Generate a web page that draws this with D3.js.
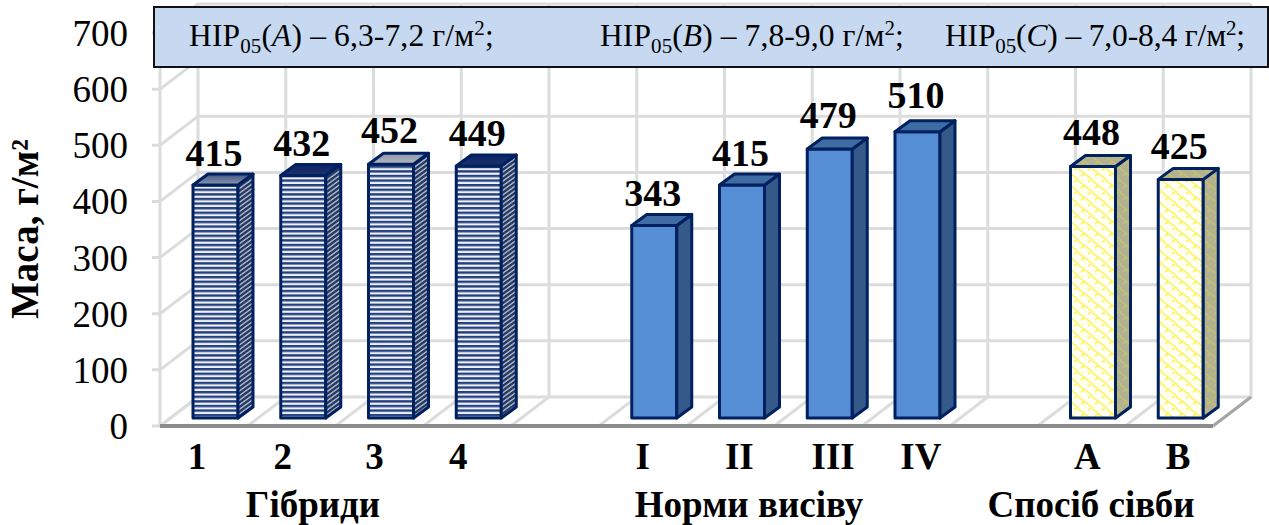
<!DOCTYPE html>
<html>
<head>
<meta charset="utf-8">
<script src="https://d3js.org/d3.v7.min.js"></script>
<style>
  html, body { margin: 0; padding: 0; background: #fff; }
  svg { display: block; }
  text { font-family: "Liberation Serif", serif; fill: #000; }
</style>
</head>
<body>
<div id="my_dataviz"></div>
<script>
// chart values
const categories = ["1", "2", "3", "4", "", "I", "II", "III", "IV", "", "A", "B"];
const values = [415, 432, 452, 449, null, 343, 415, 479, 510, null, 448, 425];
const yTicks = [0, 100, 200, 300, 400, 500, 600, 700];
const groupNames = ["Гібриди", "Норми висіву", "Спосіб сівби"];
const lsdNames = ["A", "B", "C"];
const lsdRanges = ["6,3-7,2", "7,8-9,0", "7,0-8,4"];

// hand placed in the original, so the labels do not sit on the band centres
const labelShift = [-7, -9, -5, -9, 0, 0, 9, 15, 15, 0, 6, 9];
const valueLift = [0, 0, 2, 1, 0, 0, 0, 2, 5, 0, 2, 1];
const groupX = [313, 749, 1091];
const lsdX = [189, 600, 945];
const lsdSpacing = [0.14, 0.1, -0.14];

const width = 1269, height = 525;
const floorY = 426, depthX = 38, depthY = 29;

const svg = d3.select("#my_dataviz").append("svg")
    .attr("width", width)
    .attr("height", height);

const x = d3.scaleBand().domain(d3.range(categories.length)).range([160, 1213]);
const y = d3.scaleLinear().domain([0, 700]).range([floorY, floorY - 393]);

// ---- fills
const defs = svg.append("defs");

function stripes(id, dark, light, skew) {
  const p = defs.append("pattern")
      .attr("id", id)
      .attr("patternUnits", "userSpaceOnUse")
      .attr("width", 8).attr("height", 4.6);
  if (skew) p.attr("patternTransform", "skewY(-36)");
  p.append("rect").attr("width", 8).attr("height", 4.6).attr("fill", light);
  p.append("rect").attr("width", 8).attr("height", skew ? 2.8 : 2.4).attr("fill", dark);
}
stripes("stripeFront", "#24407f", "#eef1f7", false);
stripes("stripeSide", "#263a66", "#aab2c2", true);

function topGradient(id, c0, c1) {
  const g = defs.append("linearGradient").attr("id", id)
      .attr("x1", 0).attr("x2", 0).attr("y1", 0).attr("y2", 1);
  g.append("stop").attr("offset", 0).attr("stop-color", c0);
  g.append("stop").attr("offset", 1).attr("stop-color", c1);
}
topGradient("topMid", "#3d5585", "#8f99ad");
topGradient("topDark", "#0c2468", "#1c3268");
topGradient("topLight", "#8d98ad", "#b4b8c0");

// yellow weave: long strokes falling to the right, short ticks across them
function weave(id, bg, line) {
  const p = defs.append("pattern")
      .attr("id", id)
      .attr("patternUnits", "userSpaceOnUse")
      .attr("width", 14).attr("height", 12);
  p.append("rect").attr("width", 14).attr("height", 12).attr("fill", bg);
  p.append("path")
      .attr("d", "M-2,-1 L16,13 M-9,5 L7,17 M7,-7 L21,5 M3,8 L7,5 M10,2 L13,0")
      .attr("fill", "none")
      .attr("stroke", line)
      .attr("stroke-width", 1.6);
}
weave("weaveFront", "#fffff4", "#fff35c");
weave("weaveSide", "#b2b292", "#c4c070");

const barStyle = (d, i) => {
  if (i < 4) return {
    front: "url(#stripeFront)", side: "url(#stripeSide)",
    top: ["url(#topMid)", "url(#topDark)", "url(#topLight)", "url(#topDark)"][i]
  };
  if (i < 9) return { front: "#558ed5", side: "#355a8a", top: "#3f6ca3" };
  return { front: "url(#weaveFront)", side: "url(#weaveSide)", top: "url(#weaveSide)" };
};

// ---- walls and floor
const grid = svg.append("g")
    .attr("fill", "none")
    .attr("stroke", "#dcdcdc")
    .attr("stroke-width", 3);

// back wall + side wall lines
grid.selectAll(".hline")
  .data(yTicks)
  .join("path")
    .attr("d", d => `M152,${y(d)} L160,${y(d)} L${160 + depthX},${y(d) - depthY} L${1213 + depthX},${y(d) - depthY}`);

// vertical wall lines and the floor diagonals
const bounds = d3.range(categories.length + 1).map(i => 160 + i * x.bandwidth());
grid.selectAll(".vline")
  .data(bounds)
  .join("path")
    .attr("d", d => `M${d},${floorY} L${d + depthX},${floorY - depthY} L${d + depthX},${y(700) - depthY}`);

grid.append("path")
    .attr("d", `M160,${floorY} L160,${y(700)}`);

svg.append("path")
    .attr("d", `M1213,${floorY} L${1213 + depthX},${floorY - depthY}`)
    .attr("fill", "none")
    .attr("stroke", "#a6a6a6")
    .attr("stroke-width", 3);
svg.append("path")
    .attr("d", `M160,${floorY} L1213,${floorY}`)
    .attr("stroke", "#8c8c8c")
    .attr("stroke-width", 4);

// ---- bars
const barW = 45, barInX = 12, barInY = 8, barDX = 15, barDY = 11;
const bars = svg.append("g")
    .attr("stroke", "#002060")
    .attr("stroke-width", 3)
    .attr("stroke-linejoin", "round");

const barData = values.map((v, i) => ({ v, i })).filter(d => d.v !== null);
const left = d => x(d.i) + 21 + barInX;
const top3d = d => y(d.v) - barInY;
const base = floorY - barInY;

bars.selectAll(".front")
  .data(barData)
  .join("rect")
    .attr("x", left)
    .attr("y", top3d)
    .attr("width", barW)
    .attr("height", d => base - top3d(d))
    .attr("fill", d => barStyle(d, d.i).front);

bars.selectAll(".side")
  .data(barData)
  .join("path")
    .attr("d", d => {
      const r = left(d) + barW;
      return `M${r},${top3d(d)} L${r + barDX},${top3d(d) - barDY} L${r + barDX},${base - barDY} L${r},${base} Z`;
    })
    .attr("fill", d => barStyle(d, d.i).side);

bars.selectAll(".top")
  .data(barData)
  .join("path")
    .attr("d", d => {
      const l = left(d), t = top3d(d);
      return `M${l},${t} L${l + barDX},${t - barDY} L${l + barW + barDX},${t - barDY} L${l + barW},${t} Z`;
    })
    .attr("fill", d => barStyle(d, d.i).top);

// ---- value labels
svg.selectAll(".value")
  .data(barData)
  .join("text")
    .attr("x", d => left(d) + barW / 2 - 1.5)
    .attr("y", d => top3d(d) - 19 - valueLift[d.i])
    .attr("text-anchor", "middle")
    .attr("font-size", 38)
    .attr("font-weight", "bold")
    .text(d => d.v);

// ---- axis text
svg.selectAll(".ytick")
  .data(yTicks)
  .join("text")
    .attr("x", 128)
    .attr("y", d => y(d) + 13)
    .attr("text-anchor", "end")
    .attr("font-size", 37)
    .text(d => d);

svg.append("text")
    .attr("transform", "translate(38,229) rotate(-90)")
    .attr("text-anchor", "middle")
    .attr("font-size", 39)
    .attr("font-weight", "bold")
    .text("Маса, г/м²");

svg.selectAll(".cat")
  .data(categories.map((c, i) => ({ c, i })).filter(d => d.c))
  .join("text")
    .attr("x", d => x(d.i) + x.bandwidth() / 2 + labelShift[d.i])
    .attr("y", 469)
    .attr("text-anchor", "middle")
    .attr("font-size", 37)
    .attr("font-weight", "bold")
    .text(d => d.c);

svg.selectAll(".group")
  .data(groupNames)
  .join("text")
    .attr("x", (d, i) => groupX[i])
    .attr("y", 517)
    .attr("text-anchor", "middle")
    .attr("font-size", 37)
    .attr("font-weight", "bold")
    .text(d => d);

// ---- LSD box on top
svg.append("rect")
    .attr("x", 154).attr("y", 7)
    .attr("width", 1114).attr("height", 60)
    .attr("fill", "#c6d9f1")
    .attr("stroke", "#111")
    .attr("stroke-width", 2);

const lsd = svg.selectAll(".lsd")
  .data(lsdNames)
  .join("text")
    .attr("x", (d, i) => lsdX[i])
    .attr("y", 46)
    .attr("font-size", 31.5)
    .attr("letter-spacing", (d, i) => lsdSpacing[i]);

lsd.append("tspan").text("НІР");
lsd.append("tspan").attr("dy", 7).attr("font-size", 21).text("05");
lsd.append("tspan").attr("dy", -7).text("(");
lsd.append("tspan").attr("font-style", "italic").text(d => d);
lsd.append("tspan").text((d, i) => `) – ${lsdRanges[i]} г/м`);
lsd.append("tspan").attr("dy", -11).attr("font-size", 21).text("2");
lsd.append("tspan").attr("dy", 11).text(";");
</script>
</body>
</html>
